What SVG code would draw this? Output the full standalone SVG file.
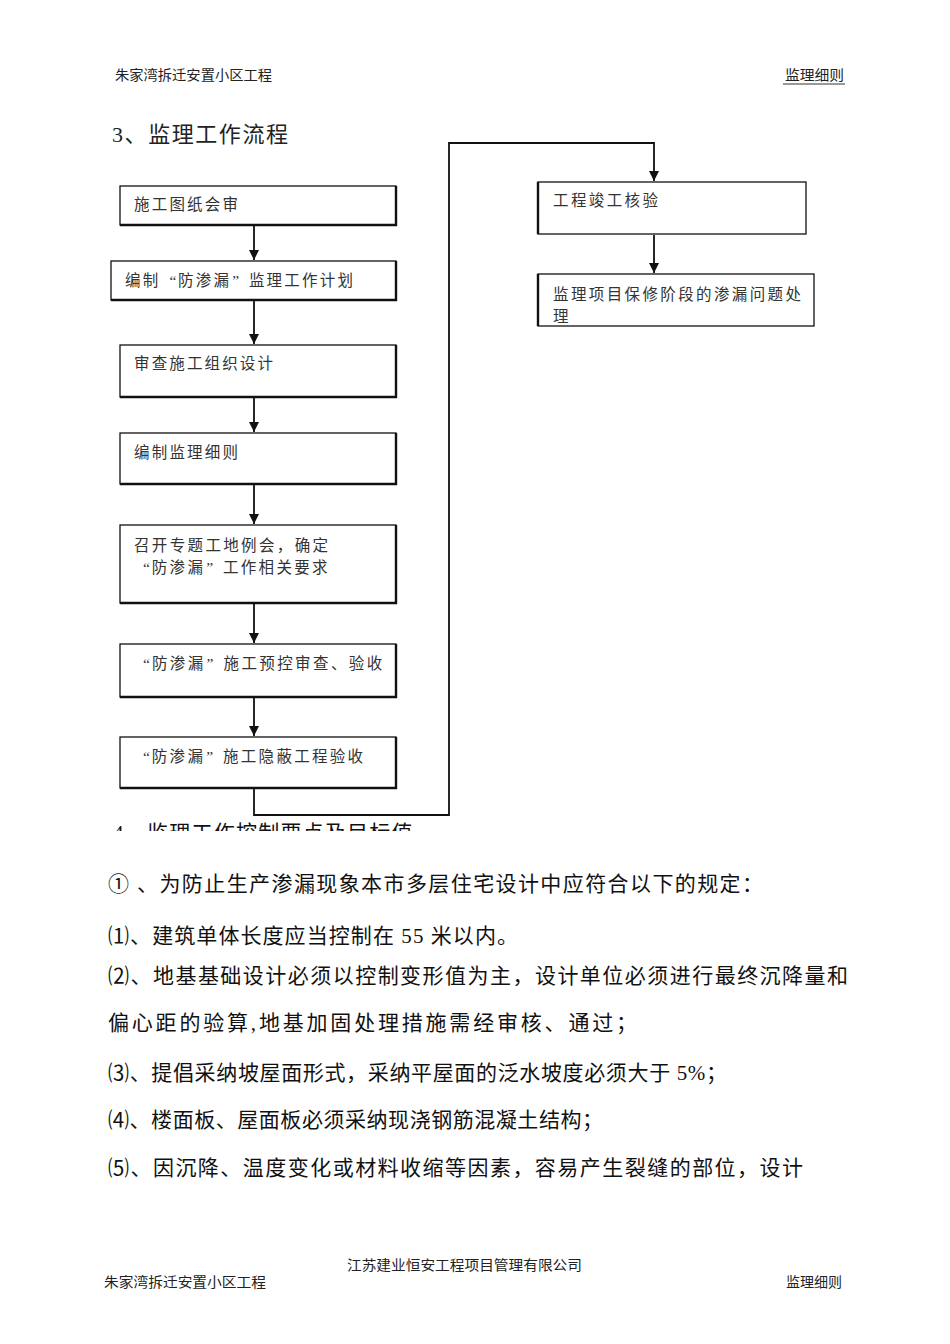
<svg xmlns="http://www.w3.org/2000/svg" width="950" height="1344" viewBox="0 0 950 1344">
<style>
.t{font-family:"Liberation Serif","Noto Sans CJK SC",serif;fill:#222;}
.hd{font-size:14px;}
.bx{font-size:15.5px;fill:#333;}
.body{font-size:21px;fill:#111;}
.box{fill:#fff;stroke:#111;stroke-width:1.3;}
.sh{fill:none;stroke:#111;stroke-width:2.4;}
.cn{fill:none;stroke:#111;stroke-width:1.8;}
</style>
<defs>
<marker id="ah" viewBox="0 0 10 10" refX="10" refY="5" markerWidth="10" markerHeight="10" markerUnits="userSpaceOnUse" orient="auto">
<path d="M0,0 L10,5 L0,10 Z" fill="#111"/>
</marker>
<clipPath id="cut"><rect x="0" y="0" width="950" height="831"/></clipPath>
</defs>
<rect width="950" height="1344" fill="#fff"/>

<g id="header">
<text class="t hd" x="115" y="80" textLength="157" lengthAdjust="spacingAndGlyphs">朱家湾拆迁安置小区工程</text>
<text class="t hd" x="785" y="80" textLength="59" lengthAdjust="spacingAndGlyphs">监理细则</text>
<line x1="783" y1="84" x2="845" y2="84" stroke="#333" stroke-width="1"/>
</g>

<g id="title">
<text class="t" x="112" y="142" font-size="22" textLength="176" lengthAdjust="spacing">3、监理工作流程</text>
</g>

<g id="connectors">
<line class="cn" x1="254" y1="225" x2="254" y2="260" marker-end="url(#ah)"/>
<line class="cn" x1="254" y1="301" x2="254" y2="344" marker-end="url(#ah)"/>
<line class="cn" x1="254" y1="398" x2="254" y2="432" marker-end="url(#ah)"/>
<line class="cn" x1="254" y1="485" x2="254" y2="524" marker-end="url(#ah)"/>
<line class="cn" x1="254" y1="604" x2="254" y2="643" marker-end="url(#ah)"/>
<line class="cn" x1="254" y1="698" x2="254" y2="736" marker-end="url(#ah)"/>
<polyline class="cn" points="254,789 254,815 449,815 449,143 654,143 654,181" marker-end="url(#ah)"/>
<line class="cn" x1="654" y1="235" x2="654" y2="273" marker-end="url(#ah)"/>
</g>

<g id="n1">
<rect class="box" x="120" y="186" width="276" height="39"/>
<polyline class="sh" points="396,186 396,225 120,225"/>
<text class="t bx" x="134" y="210" textLength="104" lengthAdjust="spacing">施工图纸会审</text>
</g>
<g id="n2">
<rect class="box" x="111" y="261" width="285" height="39"/>
<polyline class="sh" points="396,261 396,300 111,300"/>
<text class="t bx" x="125 142.7 169.4 178.1 195.8 213.5 232.2 248.9 266.6 284.3 302 319.7 337.4" y="286">编制“防渗漏”监理工作计划</text>
</g>
<g id="n3">
<rect class="box" x="120" y="345" width="276" height="52"/>
<polyline class="sh" points="396,345 396,397 120,397"/>
<text class="t bx" x="134" y="369" textLength="139" lengthAdjust="spacing">审查施工组织设计</text>
</g>
<g id="n4">
<rect class="box" x="120" y="433" width="276" height="51"/>
<polyline class="sh" points="396,433 396,484 120,484"/>
<text class="t bx" x="134" y="458" textLength="104" lengthAdjust="spacing">编制监理细则</text>
</g>
<g id="n5">
<rect class="box" x="120" y="525" width="276" height="78"/>
<polyline class="sh" points="396,525 396,603 120,603"/>
<text class="t bx" x="134" y="551" textLength="194" lengthAdjust="spacing">召开专题工地例会，确定</text>
<text class="t bx" x="143 151.8 169.6 187.4 206.2 223 240.8 258.6 276.4 294.2 312" y="573">“防渗漏”工作相关要求</text>
</g>
<g id="n6">
<rect class="box" x="120" y="644" width="276" height="53"/>
<polyline class="sh" points="396,644 396,697 120,697"/>
<text class="t bx" x="143 151.9 169.8 187.7 206.6 223.5 241.4 259.3 277.2 295.1 313 330.9 348.8 366.7" y="669">“防渗漏”施工预控审查、验收</text>
</g>
<g id="n7">
<rect class="box" x="120" y="737" width="276" height="51"/>
<polyline class="sh" points="396,737 396,788 120,788"/>
<text class="t bx" x="143 151.8 169.6 187.4 206.2 223 240.8 258.6 276.4 294.2 312 329.8 347.6" y="762">“防渗漏”施工隐蔽工程验收</text>
</g>
<g id="n8">
<rect class="box" x="538" y="182" width="268" height="52"/>
<polyline class="sh" points="538,182 538,234"/>
<text class="t bx" x="553" y="206" textLength="105" lengthAdjust="spacing">工程竣工核验</text>
</g>
<g id="n9">
<rect class="box" x="538" y="274" width="276" height="52"/>
<polyline class="sh" points="538,274 538,326"/>
<text class="t bx" x="553" y="300" textLength="248" lengthAdjust="spacing">监理项目保修阶段的渗漏问题处</text>
<text class="t bx" x="553" y="322">理</text>
</g>

<g id="body">
<g clip-path="url(#cut)">
<text class="t body" x="113" y="840">4</text>
<text class="t body" x="147" y="840" textLength="272" lengthAdjust="spacing">监理工作控制要点及目标值.</text>
</g>
<text class="t body" x="108" y="891" textLength="655" lengthAdjust="spacing">① 、为防止生产渗漏现象本市多层住宅设计中应符合以下的规定：</text>
<text class="t body" x="108" y="943" textLength="410" lengthAdjust="spacing">⑴、建筑单体长度应当控制在 55 米以内。</text>
<text class="t body" x="108" y="983" textLength="740" lengthAdjust="spacing">⑵、地基基础设计必须以控制变形值为主，设计单位必须进行最终沉降量和</text>
<text class="t body" x="108" y="1030" textLength="529" lengthAdjust="spacing">偏心距的验算,地基加固处理措施需经审核、通过；</text>
<text class="t body" x="108" y="1080" textLength="619" lengthAdjust="spacing">⑶、提倡采纳坡屋面形式，采纳平屋面的泛水坡度必须大于 5%；</text>
<text class="t body" x="108" y="1127" textLength="495" lengthAdjust="spacing">⑷、楼面板、屋面板必须采纳现浇钢筋混凝土结构；</text>
<text class="t body" x="108" y="1175" textLength="695" lengthAdjust="spacing">⑸、因沉降、温度变化或材料收缩等因素，容易产生裂缝的部位，设计</text>
</g>

<g id="footer">
<text class="t" font-size="13.5" x="347" y="1270" textLength="235" lengthAdjust="spacingAndGlyphs">江苏建业恒安工程项目管理有限公司</text>
<text class="t hd" x="104" y="1287" textLength="162" lengthAdjust="spacingAndGlyphs">朱家湾拆迁安置小区工程</text>
<text class="t hd" x="786" y="1287" textLength="56" lengthAdjust="spacingAndGlyphs">监理细则</text>
</g>
</svg>
